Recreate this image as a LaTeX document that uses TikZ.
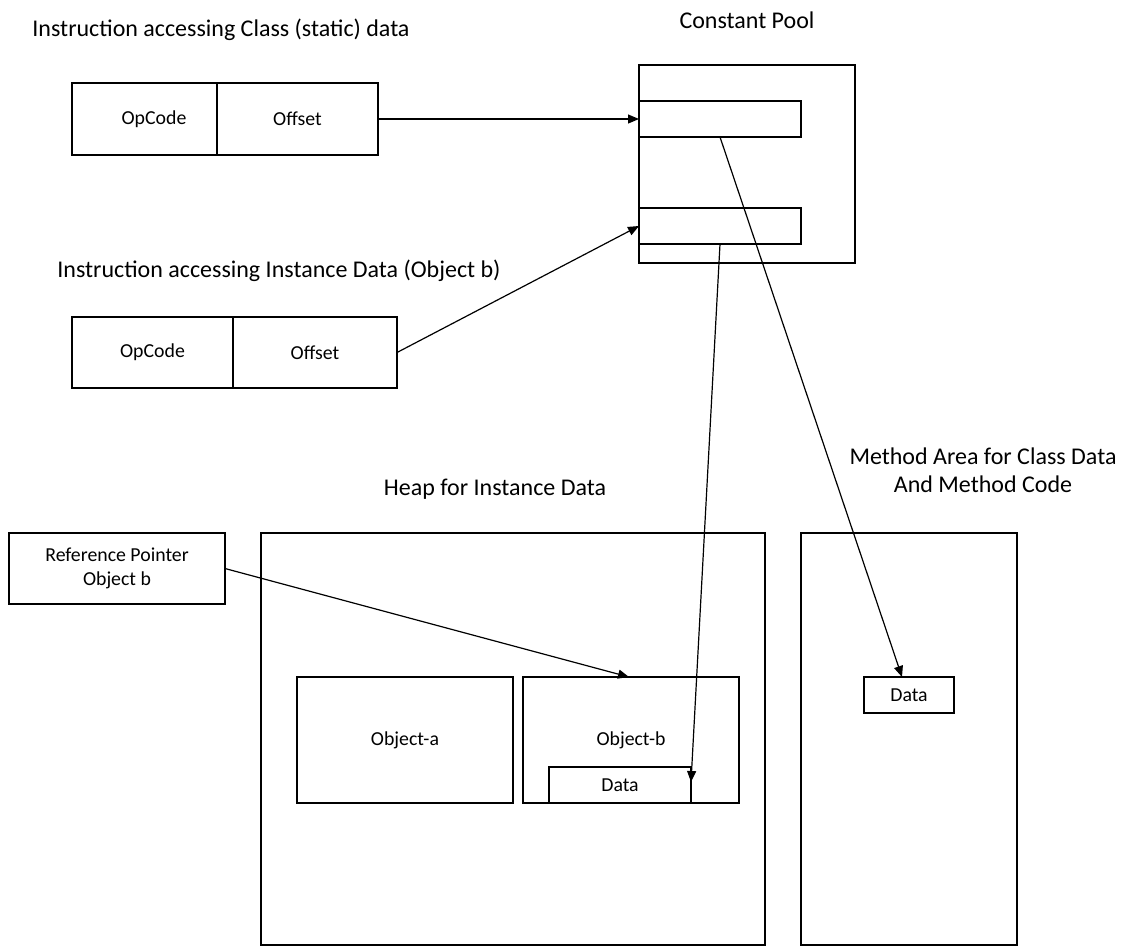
\documentclass[tikz,border=0pt]{standalone}
\usepackage{fontspec}
\setmainfont{Carlito}
\usetikzlibrary{arrows.meta,calc}
\begin{document}
\begin{tikzpicture}[x=1pt,y=-1pt,
  every node/.style={inner sep=0pt,outer sep=0pt},
  box/.style={draw=black,line width=1.3pt,fill=white,anchor=north west,
    font=\fontsize{19.8}{23.5}\selectfont,align=center},
  boxtext/.style={font=\fontsize{19.8}{23.5}\selectfont},
  label/.style={font=\fontsize{24}{28}\selectfont,align=center},
  link/.style={draw=black,line width=1.2pt,
    -{Triangle[length=11pt,width=9pt]}}]
\useasboundingbox (0,0) rectangle (1121,946);

% headings
\node[label] (t1) at (221,30) {Instruction accessing Class (static) data};
\node[label] (t2) at (279,271) {Instruction accessing Instance Data (Object b)};
\node[label] (t3) at (747,20) {Constant Pool};
\node[label] (t4) at (495,489) {Heap for Instance Data};
\node[label] (t5) at (983,470) {Method Area for Class Data\\And Method Code};

% first instruction
\node[box,minimum width=145,minimum height=72] (op1) at (72,83) {};
\node[boxtext] (op1t) at (154,119) {OpCode};
\node[box,minimum width=161,minimum height=72] (of1) at (217,83) {Offset};

% second instruction
\node[box,minimum width=161,minimum height=71] (op2) at (72,317) {OpCode};
\node[box,minimum width=164,minimum height=71] (of2) at (233,317) {Offset};

% constant pool with two entries
\node[box,minimum width=216,minimum height=198] (pool) at (639,65) {};
\node[box,minimum width=162,minimum height=36] (slot1) at (639,101) {};
\node[box,minimum width=162,minimum height=36] (slot2) at (639,208) {};

% heap and method area
\node[box,minimum width=504,minimum height=412] (heap) at (261,533) {};
\node[box,minimum width=216,minimum height=412] (marea) at (801,533) {};
\node[box,minimum width=216,minimum height=71] (ref) at (9,533) {Reference Pointer\\Object b};

\node[box,minimum width=216,minimum height=126] (obja) at (297,677) {Object-a};
\node[box,minimum width=216,minimum height=126] (objb) at (523,677) {};
\node[boxtext] (objbt) at (631,740) {Object-b};
\node[box,minimum width=142,minimum height=36] (bdata) at (549,767) {Data};
\node[box,minimum width=90,minimum height=36] (mdata) at (864,677) {Data};

% connectors
\draw[link] (of1.east) -- (slot1.west);
\draw[link] (of2.east) -- (slot2.west);
\draw[link] (slot1.south) -- ($(mdata.north)+(-7,0)$);
\draw[link] (slot2.south) -- ($(bdata.east)+(0,-3)$);
\draw[link] (ref.east) -- ($(objb.north)+(-2,0)$);
\end{tikzpicture}
\end{document}
